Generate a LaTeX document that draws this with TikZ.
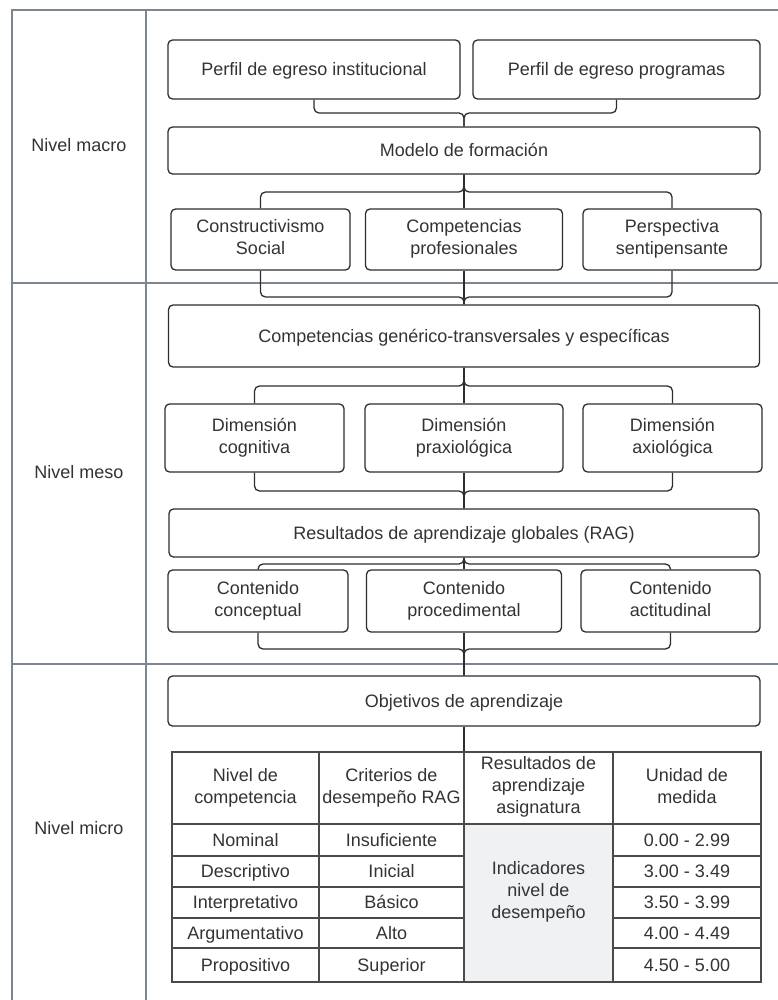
\documentclass[tikz,border=0pt]{standalone}
\usepackage{fontspec}
\setmainfont{Liberation Sans}
\definecolor{boxc}{HTML}{2E2E2E}
\definecolor{framec}{HTML}{7D8591}
\definecolor{gridc}{HTML}{4A4A4A}
\definecolor{txt}{HTML}{333333}
\definecolor{cellc}{HTML}{F0F1F3}
\newcommand\topstrutx{\rule{0pt}{17pt}}
\newcommand\botstrutx{\rule[-4.2pt]{0pt}{4.2pt}}
\begin{document}
\begin{tikzpicture}[x=1pt,y=-1pt,
  box/.style={draw=boxc, line width=1.3pt, rounded corners=4.5pt, align=center, inner sep=0pt, text=txt, font=\fontsize{18}{22}\selectfont, execute at begin node=\topstrutx, execute at end node=\botstrutx},
  conn/.style={draw=boxc, line width=1.3pt, rounded corners=5pt},
  frame/.style={draw=framec, line width=2pt},
  tgrid/.style={draw=gridc, line width=1.3pt},
  lbl/.style={text=txt, font=\fontsize{18}{22}\selectfont, align=center, inner sep=0pt, execute at begin node=\topstrutx, execute at end node=\botstrutx}]
\fill[white] (0,0) rectangle (778,1000);
\useasboundingbox (0,0) rectangle (778,1000);

% frame
\draw[frame] (12,1000) -- (12,10) -- (778,10);
\draw[frame] (146,10) -- (146,1000);
\draw[frame] (12,283) -- (778,283);
\draw[frame] (12,664) -- (778,664);

\node[lbl] (lmacro) at (79,145) {Nivel macro};
\node[lbl] (lmeso) at (79,472) {Nivel meso};
\node[lbl] (lmicro) at (79,828) {Nivel micro};

% boxes
\node[box, minimum width=292pt, minimum height=59pt] (p1) at (314,69.5) {Perfil de egreso institucional};
\node[box, minimum width=287pt, minimum height=59pt] (p2) at (616.5,69.5) {Perfil de egreso programas};
\node[box, minimum width=592pt, minimum height=47pt] (modelo) at (464,150.5) {Modelo de formación};
\node[box, minimum width=179pt, minimum height=61pt] (cs) at (260.5,239.5) {Constructivismo\\Social};
\node[box, minimum width=197pt, minimum height=61pt] (cp) at (464,239.5) {Competencias\\profesionales};
\node[box, minimum width=178pt, minimum height=61pt] (ps) at (672,239.5) {Perspectiva\\sentipensante};
\node[box, minimum width=591pt, minimum height=62pt] (cgt) at (464,336) {Competencias genérico-transversales y específicas};
\node[box, minimum width=179pt, minimum height=68pt] (d1) at (254.5,438) {Dimensión\\cognitiva};
\node[box, minimum width=198pt, minimum height=68pt] (d2) at (464,438) {Dimensión\\praxiológica};
\node[box, minimum width=179pt, minimum height=68pt] (d3) at (672.5,438) {Dimensión\\axiológica};
\node[box, minimum width=590pt, minimum height=48pt] (rag) at (464,533) {Resultados de aprendizaje globales (RAG)};
\node[box, minimum width=180pt, minimum height=62pt] (c1) at (258,601) {Contenido\\conceptual};
\node[box, minimum width=195pt, minimum height=62pt] (c2) at (464,601) {Contenido\\procedimental};
\node[box, minimum width=179pt, minimum height=62pt] (c3) at (670.5,601) {Contenido\\actitudinal};
\node[box, minimum width=592pt, minimum height=50pt] (obj) at (464,701) {Objetivos de aprendizaje};

% connectors
\coordinate (j1) at (464,113);
\draw[conn] (p1.south) |- (j1) -- (modelo.north);
\draw[conn] (p2.south) |- (j1) -- (modelo.north);

\coordinate (j2) at (464,192);
\draw[conn] (modelo.south) -- (j2) -| (cs.north);
\draw[conn] (modelo.south) -- (cp.north);
\draw[conn] (modelo.south) -- (j2) -| (ps.north);

\coordinate (j3) at (464,297);
\draw[conn] (cs.south) |- (j3) -- (cgt.north);
\draw[conn] (cp.south) -- (cgt.north);
\draw[conn] (ps.south) |- (j3) -- (cgt.north);

\coordinate (j4) at (464,386);
\draw[conn] (cgt.south) -- (j4) -| (d1.north);
\draw[conn] (cgt.south) -- (d2.north);
\draw[conn] (cgt.south) -- (j4) -| (d3.north);

\coordinate (j5) at (464,491);
\draw[conn] (d1.south) |- (j5) -- (rag.north);
\draw[conn] (d2.south) -- (rag.north);
\draw[conn] (d3.south) |- (j5) -- (rag.north);

\coordinate (j6) at (464,564);
\draw[conn] (rag.south) -- (j6) -| (c1.north);
\draw[conn] (rag.south) -- (c2.north);
\draw[conn] (rag.south) -- (j6) -| (c3.north);

\coordinate (j7) at (464,649);
\draw[conn] (c1.south) |- (j7) -- (obj.north);
\draw[conn] (c2.south) -- (obj.north);
\draw[conn] (c3.south) |- (j7) -- (obj.north);

\coordinate (tabtop) at (464,752);
\draw[conn] (obj.south) -- (tabtop);

% table
\fill[cellc] (464,824) rectangle (613,982);
\draw[tgrid] (172,752) rectangle (761,982);
\draw[tgrid] (319,752) -- (319,982);
\draw[tgrid] (464,752) -- (464,982);
\draw[tgrid] (613,752) -- (613,982);
\draw[tgrid] (172,824) -- (761,824);
\foreach \yy in {856,887,918,948} {
  \draw[tgrid] (172,\yy) -- (464,\yy);
  \draw[tgrid] (613,\yy) -- (761,\yy);
}

\node[lbl] (h1) at (245.5,788) {Nivel de\\competencia};
\node[lbl] (h2) at (391.5,788) {Criterios de\\desempeño RAG};
\node[lbl] (h3) at (538.5,787) {Resultados de\\aprendizaje\\asignatura};
\node[lbl] (h4) at (687,788) {Unidad de\\medida};

\node[lbl] (a1) at (245.5,840) {Nominal};
\node[lbl] (a2) at (245.5,871.5) {Descriptivo};
\node[lbl] (a3) at (245.5,902.5) {Interpretativo};
\node[lbl] (a4) at (245.5,933) {Argumentativo};
\node[lbl] (a5) at (245.5,965) {Propositivo};

\node[lbl] (b1) at (391.5,840) {Insuficiente};
\node[lbl] (b2) at (391.5,871.5) {Inicial};
\node[lbl] (b3) at (391.5,902.5) {Básico};
\node[lbl] (b4) at (391.5,933) {Alto};
\node[lbl] (b5) at (391.5,965) {Superior};

\node[lbl] (ind) at (538.5,892) {Indicadores\\nivel de\\desempeño};

\node[lbl] (u1) at (687,840) {0.00 - 2.99};
\node[lbl] (u2) at (687,871.5) {3.00 - 3.49};
\node[lbl] (u3) at (687,902.5) {3.50 - 3.99};
\node[lbl] (u4) at (687,933) {4.00 - 4.49};
\node[lbl] (u5) at (687,965) {4.50 - 5.00};
\end{tikzpicture}
\end{document}
